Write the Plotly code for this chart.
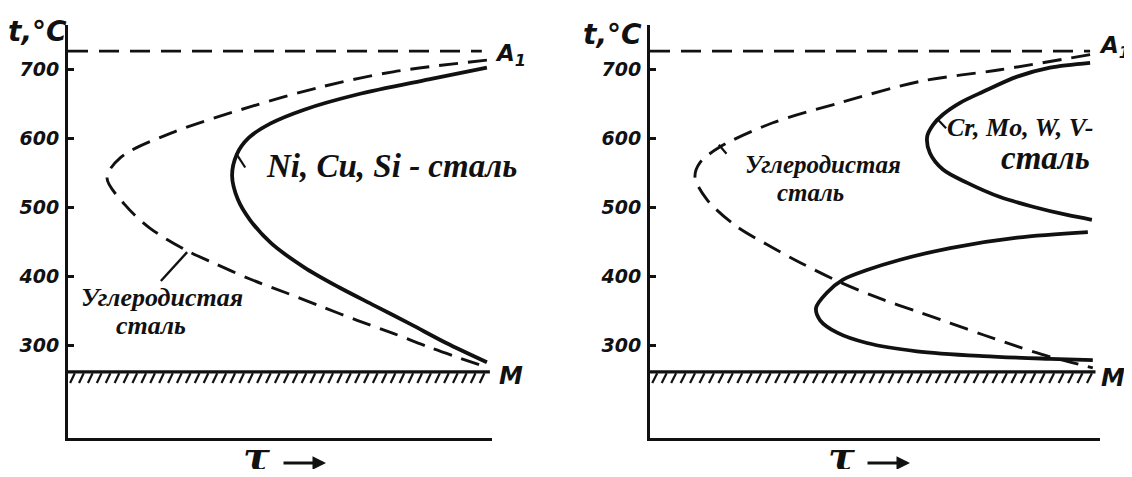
import numpy as np
import plotly.graph_objects as go

# page is 1132x477, the html body has an 8px margin
PAGE_W, PAGE_H, BODY_M = 1132, 477, 8
W, H = PAGE_W - 2 * BODY_M, PAGE_H - 2 * BODY_M

# ---------------- data ----------------
Y_TICKS = [300, 400, 500, 600, 700]
T_RANGE = [165, 765]          # temperature axis range, °C
TAU_RANGE = [0, 100]          # time (arbitrary units)
A1_TEMP = 727                 # A1 line
M_TEMP = 261                  # martensite start line

# Left panel: carbon steel C-curve (dashed)
carbon_L_tau = [98.8, 76.7, 59.7, 42.9, 24.3, 12.5, 9.2, 13.4, 19.3, 27.8,
                34.4, 42.9, 51.4, 59.7, 68.2, 76.7, 85.1, 98.6]
carbon_L_T = [714, 697, 675, 646, 608, 573, 543, 504, 470, 438,
              419, 396, 376, 356, 336, 317, 297, 268]

# Left panel: Ni, Cu, Si steel C-curve (solid)
nicusi_tau = [98.8, 85.1, 68.2, 55.7, 47.8, 42.6, 39.8, 38.7, 40.1, 42.9,
              47.9, 55.7, 63.9, 72.4, 80.9, 89.2, 98.8]
nicusi_T = [703, 686, 664, 642, 622, 601, 577, 546, 511, 482,
            448, 413, 384, 357, 330, 303, 275]

# Right panel: carbon steel C-curve (dashed)
carbon_R_tau = [97.8, 77.8, 60.0, 42.2, 27.3, 15.6, 11.1, 10.0, 12.7, 18.9,
                26.0, 33.3, 42.7, 51.8, 59.3, 66.7, 74.0, 81.6, 88.9, 98.4]
carbon_R_T = [722, 700, 683, 652, 623, 588, 565, 544, 511, 474,
              446, 420, 390, 366, 349, 332, 315, 298, 283, 267]

# Right panel: Cr, Mo, W, V steel - upper (pearlite) C-curve
crmo_up_tau = [97.8, 88.9, 81.6, 74.0, 68.9, 65.1, 62.9, 61.6, 62.2, 65.1,
               70.4, 77.8, 85.1, 92.7, 98.2]
crmo_up_T = [710, 703, 690, 668, 652, 635, 620, 603, 579, 555,
             536, 515, 501, 489, 482]

# Right panel: Cr, Mo, W, V steel - lower (bainite) C-curve
crmo_lo_tau = [97.3, 81.6, 66.7, 55.6, 48.2, 42.9, 39.3, 36.9, 37.8, 41.6,
               48.2, 59.3, 74.0, 88.9, 98.4]
crmo_lo_T = [464, 456, 441, 424, 409, 395, 376, 354, 336, 318,
             303, 291, 284, 280, 278]

# ---------------- helpers ----------------
def px_x(px):
    return (px - BODY_M) / W

def px_y(py):
    return 1 - (py - BODY_M) / H

BLACK = "#111111"
SOLID_W = 3.8
DASH_W = 2.9
DASH = "19px,10px"

fig = go.Figure()


def add_panel(xa, ya, curves, a1_end, m_end):
    # A1 line
    fig.add_trace(go.Scatter(x=[0, a1_end], y=[A1_TEMP, A1_TEMP], mode="lines",
                             line=dict(color=BLACK, width=DASH_W, dash="20px,11px"),
                             xaxis=xa, yaxis=ya, hoverinfo="skip"))
    # M line + hatching
    fig.add_trace(go.Scatter(x=[0, m_end], y=[M_TEMP, M_TEMP], mode="lines",
                             line=dict(color=BLACK, width=3.4),
                             xaxis=xa, yaxis=ya, hoverinfo="skip"))
    hx, hy = [], []
    for x0 in np.arange(1.0, m_end - 0.5, 2.1):
        hx += [x0 + 0.6, x0 - 0.5, None]
        hy += [M_TEMP - 2, M_TEMP - 16, None]
    fig.add_trace(go.Scatter(x=hx, y=hy, mode="lines",
                             line=dict(color=BLACK, width=2.2),
                             xaxis=xa, yaxis=ya, hoverinfo="skip"))
    for tau, temp, dashed in curves:
        fig.add_trace(go.Scatter(
            x=tau, y=temp, mode="lines",
            line=dict(color=BLACK, width=DASH_W if dashed else SOLID_W,
                      dash=DASH if dashed else "solid", shape="spline", smoothing=0.9),
            xaxis=xa, yaxis=ya, hoverinfo="skip"))


add_panel("x", "y", [(carbon_L_tau, carbon_L_T, True),
                     (nicusi_tau, nicusi_T, False)], 97.6, 99.5)
add_panel("x2", "y2", [(carbon_R_tau, carbon_R_T, True),
                       (crmo_up_tau, crmo_up_T, False),
                       (crmo_lo_tau, crmo_lo_T, False)], 97.8, 99.0)

# leader marks (label pointers)
leaders = [
    ("x", "y", 28.1, 435, 21.9, 393, 2.4),
    ("x", "y", 39.9, 576, 41.8, 558, 2.2),
    ("x2", "y2", 15.3, 591, 17.0, 578, 2.2),
    ("x2", "y2", 63.9, 628, 65.8, 615, 2.2),
]
for xa, ya, x0, y0, x1, y1, w in leaders:
    fig.add_shape(type="line", xref=xa, yref=ya, x0=x0, y0=y0, x1=x1, y1=y1,
                  line=dict(color=BLACK, width=w))

tick_font = dict(family="DejaVu Sans", size=19, color=BLACK, weight="bold", style="italic")
ax_common = dict(showgrid=False, zeroline=False, showline=True, linecolor=BLACK,
                 linewidth=3, fixedrange=True)
ydom = [px_y(438), px_y(25)]
fig.update_layout(
    width=W, height=H, margin=dict(l=0, r=0, t=0, b=0),
    paper_bgcolor="white", plot_bgcolor="white", showlegend=False,
    xaxis=dict(domain=[px_x(68), px_x(492)], range=TAU_RANGE, showticklabels=False,
               ticks="", anchor="y", **ax_common),
    yaxis=dict(domain=ydom, range=T_RANGE, tickvals=Y_TICKS, ticks="inside", ticklen=6,
               tickwidth=2.5, tickcolor=BLACK, tickfont=tick_font, anchor="x",
               ticklabelstandoff=2, **ax_common),
    xaxis2=dict(domain=[px_x(650), px_x(1100)], range=TAU_RANGE, showticklabels=False,
                ticks="", anchor="y2", **ax_common),
    yaxis2=dict(domain=ydom, range=T_RANGE, tickvals=Y_TICKS, ticks="inside", ticklen=6,
                tickwidth=2.5, tickcolor=BLACK, tickfont=tick_font, anchor="x2",
                ticklabelstandoff=2, **ax_common),
)

serif = "Liberation Serif"
sans = "DejaVu Sans"


def note(text, px, py, family, size, xanchor="center", weight="bold"):
    fig.add_annotation(text=text, x=px_x(px), y=px_y(py), xref="paper", yref="paper",
                       showarrow=False, xanchor=xanchor, yanchor="middle",
                       font=dict(family=family, size=size, color=BLACK,
                                 weight=weight, style="italic"))


# axis titles and line labels
note("t,°C", 37, 32, sans, 28)
note("t,°C", 612, 35, sans, 28)
note("A<sub>1</sub>", 510, 55, sans, 23)
note("A<sub>1</sub>", 1114, 47, sans, 23)
note("M", 511, 376, sans, 24)
note("M", 1113, 378, sans, 24)
note("τ", 256, 455, "DejaVu Serif", 40)
note("τ", 841, 455, "DejaVu Serif", 40)
for x0, x1 in [(282, 326), (866, 910)]:
    fig.add_annotation(x=px_x(x1), y=px_y(463), ax=-(x1 - x0), ay=0,
                       xref="paper", yref="paper", axref="pixel", ayref="pixel",
                       text="", showarrow=True, arrowhead=2, arrowsize=0.9,
                       arrowwidth=3.0, arrowcolor=BLACK)

# curve labels
note("Ni, Cu, Si - сталь", 391, 166, serif, 33)
note("Углеродистая", 162, 297, serif, 26)
note("сталь", 151, 325, serif, 26)
note("Углеродистая", 823, 165, serif, 25)
note("сталь", 810, 192, serif, 25)
note("Cr, Mo, W, V-", 1020, 127, serif, 26)
note("сталь", 1045, 158, serif, 33)

fig.write_html("out.html", config={"displayModeBar": False})
